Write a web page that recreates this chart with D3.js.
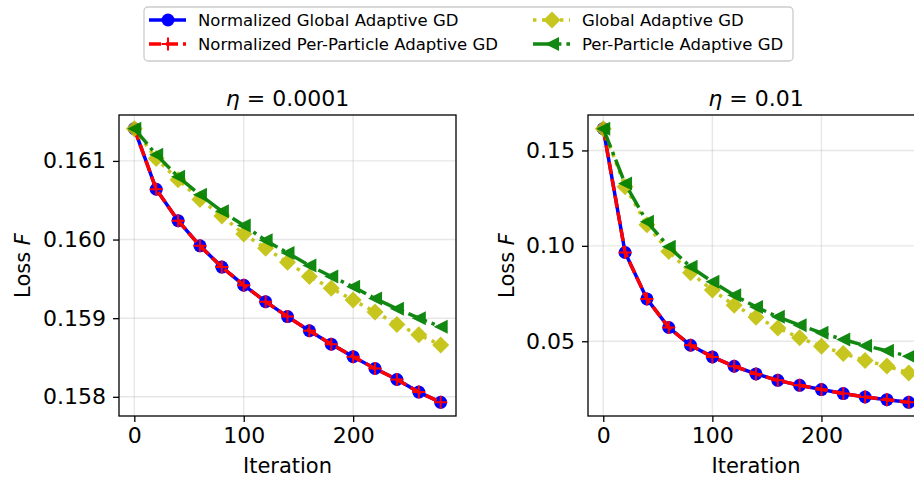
<!DOCTYPE html>
<html>
<head>
<meta charset="utf-8">
<script src="https://cdn.jsdelivr.net/npm/d3@7"></script>
<style>
  body { margin: 0; background: #fff; }
  text { font-family: "DejaVu Sans", sans-serif; fill: #000; }
</style>
</head>
<body>
<script>
// data
const iterations = [0, 20, 40, 60, 80, 100, 120, 140, 160, 180, 200, 220, 240, 260, 280]

// eta = 0.0001
const normGlobalA = [0.16141, 0.16064, 0.16024, 0.15992, 0.15965, 0.15942, 0.15921, 0.15902, 0.15884, 0.15867, 0.15851, 0.15836, 0.15822, 0.15806, 0.15793]
const normParticleA = [0.16141, 0.16064, 0.16024, 0.15992, 0.15965, 0.15942, 0.15921, 0.15902, 0.15884, 0.15867, 0.15851, 0.15836, 0.15822, 0.15806, 0.15793]
const globalA = [0.16141, 0.16103, 0.16076, 0.16051, 0.16030, 0.16007, 0.15989, 0.15971, 0.15953, 0.15938, 0.15923, 0.15908, 0.15892, 0.15879, 0.15866]
const particleA = [0.16141, 0.16108, 0.16080, 0.16057, 0.16036, 0.16018, 0.15999, 0.15983, 0.15967, 0.15953, 0.15940, 0.15925, 0.15912, 0.15900, 0.15889]

// eta = 0.01
const normGlobalB = [0.1614, 0.0965, 0.0722, 0.0572, 0.0479, 0.0418, 0.0369, 0.0329, 0.0295, 0.0269, 0.0247, 0.0226, 0.0208, 0.0194, 0.0180]
const normParticleB = [0.1614, 0.0965, 0.0722, 0.0572, 0.0479, 0.0418, 0.0369, 0.0329, 0.0295, 0.0269, 0.0247, 0.0226, 0.0208, 0.0194, 0.0180]
const globalB = [0.1614, 0.1310, 0.1110, 0.0971, 0.0859, 0.0768, 0.0689, 0.0626, 0.0570, 0.0518, 0.0474, 0.0436, 0.0399, 0.0370, 0.0334]
const particleB = [0.1614, 0.1327, 0.1126, 0.0995, 0.0890, 0.0812, 0.0741, 0.0680, 0.0628, 0.0584, 0.0544, 0.0509, 0.0477, 0.0450, 0.0421]

const seriesNames = ['Normalized Global Adaptive GD', 'Normalized Per-Particle Adaptive GD', 'Global Adaptive GD', 'Per-Particle Adaptive GD']
const etaLabels = ['0.0001', '0.01']
const xTicks = [0, 100, 200]
const yTicksA = [0.158, 0.159, 0.160, 0.161]
const yTicksB = [0.05, 0.10, 0.15]

// styles for each series, same order as seriesNames
const styles = [
  { color: '#0000ff', dash: null, marker: 'circle', opacity: 1 },
  { color: '#ff0000', dash: '12,5', marker: 'plus', opacity: 1 },
  { color: '#bfbf00', dash: '3.4,5.6', marker: 'diamond', opacity: 0.88 },
  { color: '#008000', dash: '20,5,3.4,5', marker: 'tri', opacity: 0.93 }
]

const svg = d3.select('body').append('svg')
  .attr('width', 914)
  .attr('height', 485)

function drawMarker(g, kind, color) {
  if (kind === 'circle') {
    g.append('circle').attr('r', 6.5).attr('fill', color)
  } else if (kind === 'plus') {
    g.append('path').attr('d', 'M-6.5,0H6.5M0,-6.5V6.5')
      .attr('stroke', color).attr('stroke-width', 2).attr('fill', 'none')
  } else if (kind === 'diamond') {
    g.append('path').attr('d', 'M0,-8.5L8.5,0L0,8.5L-8.5,0Z').attr('fill', color)
  } else {
    g.append('path').attr('d', 'M-7,0L7,-7L7,7Z').attr('fill', color)
  }
}

function drawPanel(p) {
  const w = p.right - p.left
  const h = p.bottom - p.top
  const g = svg.append('g').attr('transform', `translate(${p.left}, ${p.top})`)

  const allY = p.series.flat()
  const yMin = d3.min(allY), yMax = d3.max(allY)
  const yPad = (yMax - yMin) * 0.05
  const xMin = d3.min(iterations), xMax = d3.max(iterations)
  const xPad = (xMax - xMin) * 0.05

  const x = d3.scaleLinear().domain([xMin - xPad, xMax + xPad]).range([0, w])
  const y = d3.scaleLinear().domain([yMin - yPad, yMax + yPad]).range([h, 0])

  // grid
  g.append('g').selectAll('line.gx').data(xTicks).join('line')
    .attr('x1', d => x(d)).attr('x2', d => x(d))
    .attr('y1', 0).attr('y2', h)
    .attr('stroke', '#b0b0b0').attr('stroke-opacity', 0.3).attr('stroke-width', 1.4)
  g.append('g').selectAll('line.gy').data(p.yTicks).join('line')
    .attr('x1', 0).attr('x2', w)
    .attr('y1', d => y(d)).attr('y2', d => y(d))
    .attr('stroke', '#b0b0b0').attr('stroke-opacity', 0.3).attr('stroke-width', 1.4)

  const clipId = 'clip' + p.id
  svg.append('clipPath').attr('id', clipId)
    .append('rect').attr('width', w).attr('height', h)

  const plot = g.append('g').attr('clip-path', `url(#${clipId})`)

  const line = d3.line()
    .x((d, i) => x(iterations[i]))
    .y(d => y(d))

  p.series.forEach((vals, k) => {
    const st = styles[k]
    const sg = plot.append('g').attr('opacity', st.opacity)
    sg.append('path')
      .datum(vals)
      .attr('fill', 'none')
      .attr('stroke', st.color)
      .attr('stroke-width', 3.5)
      .attr('stroke-dasharray', st.dash)
      .attr('d', line)
    vals.forEach((v, i) => {
      const mg = sg.append('g').attr('transform', `translate(${x(iterations[i])}, ${y(v)})`)
      drawMarker(mg, st.marker, st.color)
    })
  })

  // spines
  g.append('rect')
    .attr('width', w).attr('height', h)
    .attr('fill', 'none').attr('stroke', '#000').attr('stroke-width', 1.3)

  // axes
  g.append('g')
    .attr('transform', `translate(0, ${h})`)
    .call(d3.axisBottom(x).tickValues(xTicks).tickSize(6).tickPadding(5).tickSizeOuter(0))
    .call(a => a.select('.domain').remove())
    .call(a => a.selectAll('text').attr('font-size', 22).attr('font-family', 'DejaVu Sans'))

  g.append('g')
    .call(d3.axisLeft(y).tickValues(p.yTicks).tickFormat(d3.format(p.fmt)).tickSize(6).tickPadding(7).tickSizeOuter(0))
    .call(a => a.select('.domain').remove())
    .call(a => a.selectAll('text').attr('font-size', 22).attr('font-family', 'DejaVu Sans'))

  svg.selectAll('.tick line').attr('stroke-width', 1.3)

  // title
  const t = g.append('text')
    .attr('x', w / 2).attr('y', -9)
    .attr('text-anchor', 'middle')
    .attr('font-size', 22)
  t.append('tspan').attr('font-style', 'italic').text('η')
  t.append('tspan').text(' = ' + p.eta)

  // axis labels
  g.append('text')
    .attr('x', w / 2).attr('y', h + 57)
    .attr('text-anchor', 'middle')
    .attr('font-size', 21)
    .text('Iteration')

  const yl = g.append('text')
    .attr('transform', `translate(${p.yLabelX - p.left}, ${h / 2}) rotate(-90)`)
    .attr('text-anchor', 'middle')
    .attr('font-size', 21)
  yl.append('tspan').text('Loss ')
  yl.append('tspan').attr('font-style', 'italic').text('F')
}

drawPanel({ id: 'a', left: 119, right: 456, top: 115, bottom: 416,
  series: [normGlobalA, normParticleA, globalA, particleA],
  yTicks: yTicksA, fmt: '.3f', eta: etaLabels[0], yLabelX: 29.5 })

drawPanel({ id: 'b', left: 588, right: 924, top: 115, bottom: 416,
  series: [normGlobalB, normParticleB, globalB, particleB],
  yTicks: yTicksB, fmt: '.2f', eta: etaLabels[1], yLabelX: 513.5 })

// legend
const legend = svg.append('g')
legend.append('rect')
  .attr('x', 144).attr('y', 7).attr('width', 649).attr('height', 54).attr('rx', 4)
  .attr('fill', '#fff').attr('stroke', '#cccccc').attr('stroke-width', 1.3)

const legendPos = [[149, 20], [149, 44], [533, 20], [533, 44]]
seriesNames.forEach((name, k) => {
  const st = styles[k]
  const [lx, ly] = legendPos[k]
  const lg = legend.append('g').attr('opacity', st.opacity)
  lg.append('line')
    .attr('x1', lx).attr('x2', lx + 37).attr('y1', ly).attr('y2', ly)
    .attr('stroke', st.color).attr('stroke-width', 3.5)
    .attr('stroke-dasharray', st.dash)
  drawMarker(lg.append('g').attr('transform', `translate(${lx + 19}, ${ly})`), st.marker, st.color)
  legend.append('text')
    .attr('x', lx + 49).attr('y', ly + 6)
    .attr('font-size', 16.5)
    .text(name)
})
</script>
</body>
</html>
